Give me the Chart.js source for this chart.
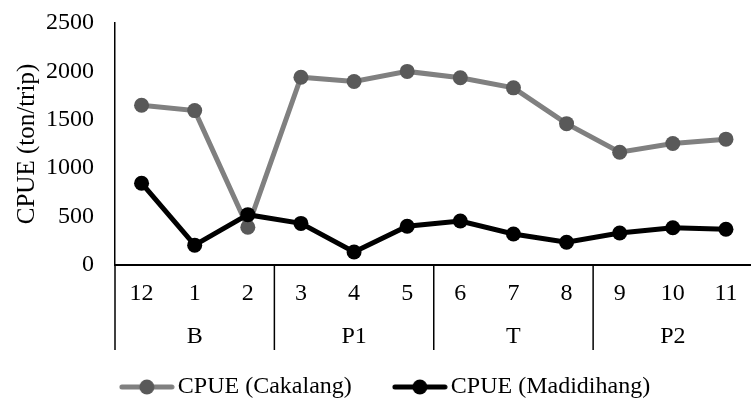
<!DOCTYPE html>
<html>
<head>
<meta charset="utf-8">
<script src="https://cdn.jsdelivr.net/npm/chart.js@4"></script>
<style>
    html, body { margin: 0; padding: 0; background: #fff; overflow: hidden; }
    #wrap { width: 751px; height: 401px; overflow: hidden; }
</style>
</head>
<body>
<div id="wrap"><canvas id="grafico" width="760" height="409"></canvas></div>
<script>
const meses = ['12', '1', '2', '3', '4', '5', '6', '7', '8', '9', '10', '11'];
const grupos = ['B', 'P1', 'T', 'P2'];
const mesesPorGrupo = [3, 3, 3, 3];
const cpueCakalang = [1650, 1595, 390, 1940, 1895, 2000, 1935, 1830, 1460, 1165, 1255, 1300];
const cpueMadidihang = [845, 205, 520, 430, 135, 400, 455, 320, 235, 330, 385, 370];
const eixoY = { min: 0, max: 2500, passo: 500 };

const fonte = '"Liberation Serif", "Times New Roman", serif';

function criarMarcador(corLinha, corPonto) {
    const c = document.createElement('canvas');
    c.width = 56;
    c.height = 16;
    const g = c.getContext('2d');
    g.strokeStyle = corLinha;
    g.lineWidth = 5;
    g.lineCap = 'round';
    g.beginPath();
    g.moveTo(3, 8);
    g.lineTo(53, 8);
    g.stroke();
    g.fillStyle = corPonto;
    g.beginPath();
    g.arc(28, 8, 7.5, 0, Math.PI * 2);
    g.fill();
    return c;
}

const marcadores = [
    criarMarcador('#808080', '#595959'),
    criarMarcador('#000000', '#000000')
];

// linhas separadoras e nomes dos grupos (B, P1, T, P2) abaixo dos meses
const pluginGrupos = {
    id: 'grupos',
    afterDraw(chart) {
        const x = chart.scales.x;
        const ctx = chart.ctx;
        const base = chart.chartArea.bottom;
        const fim = 350;

        const limites = [x.left];
        const centros = [];
        let ini = 0;
        mesesPorGrupo.forEach(n => {
            const a = x.getPixelForValue(ini);
            const b = x.getPixelForValue(ini + n - 1);
            centros.push((a + b) / 2);
            ini += n;
            if (ini < meses.length) {
                limites.push((x.getPixelForValue(ini - 1) + x.getPixelForValue(ini)) / 2);
            } else {
                limites.push(x.right);
            }
        });

        ctx.save();
        ctx.strokeStyle = '#000';
        ctx.lineWidth = 1.5;
        limites.forEach(px => {
            ctx.beginPath();
            ctx.moveTo(px, base);
            ctx.lineTo(px, fim);
            ctx.stroke();
        });

        ctx.fillStyle = '#000';
        ctx.font = '24px ' + fonte;
        ctx.textAlign = 'center';
        ctx.textBaseline = 'middle';
        grupos.forEach((g, i) => {
            ctx.fillText(g, centros[i], 337);
        });
        ctx.restore();
    }
};

function criarGrafico() {

    const ctx = document.getElementById('grafico').getContext('2d');

    new Chart(ctx, {
        type: 'line',
        data: {
            labels: meses,
            datasets: [
                {
                    label: 'CPUE (Cakalang)',
                    data: cpueCakalang,
                    borderColor: '#808080',
                    backgroundColor: '#595959',
                    pointBackgroundColor: '#595959',
                    pointBorderColor: '#595959',
                    borderWidth: 5,
                    pointRadius: 7.5,
                    pointBorderWidth: 0,
                    tension: 0,
                    order: 2
                },
                {
                    label: 'CPUE (Madidihang)',
                    data: cpueMadidihang,
                    borderColor: '#000000',
                    backgroundColor: '#000000',
                    pointBackgroundColor: '#000000',
                    pointBorderColor: '#000000',
                    borderWidth: 5,
                    pointRadius: 7.5,
                    pointBorderWidth: 0,
                    tension: 0,
                    order: 1
                }
            ]
        },
        options: {
            responsive: false,
            animation: false,
            devicePixelRatio: 1,
            layout: { padding: { top: 23, left: 18, right: 0, bottom: 0 } },
            plugins: {
                tooltip: { enabled: false },
                legend: {
                    position: 'bottom',
                    labels: {
                        usePointStyle: true,
                        pointStyleWidth: 38,
                        padding: 49,
                        color: '#000',
                        font: { family: fonte, size: 24 },
                        generateLabels(chart) {
                            const itens = Chart.defaults.plugins.legend.labels.generateLabels(chart);
                            itens.sort((a, b) => a.datasetIndex - b.datasetIndex);
                            itens.forEach(it => { it.pointStyle = marcadores[it.datasetIndex]; });
                            return itens;
                        }
                    }
                }
            },
            scales: {
                x: {
                    offset: true,
                    grid: { display: false, drawTicks: false, offset: true },
                    border: { display: true, color: '#000', width: 2 },
                    ticks: {
                        color: '#000',
                        padding: 14,
                        maxRotation: 0,
                        autoSkip: false,
                        font: { family: fonte, size: 24 }
                    },
                    afterFit(scale) { scale.height = 61; }
                },
                y: {
                    min: eixoY.min,
                    max: eixoY.max,
                    grid: { display: false, drawTicks: false },
                    border: { display: true, color: '#000', width: 1.5 },
                    ticks: {
                        stepSize: eixoY.passo,
                        color: '#000',
                        padding: 21,
                        font: { family: fonte, size: 24 },
                        callback: v => String(v)
                    },
                    title: {
                        display: true,
                        text: 'CPUE (ton/trip)',
                        color: '#000',
                        padding: { top: -6, bottom: 0 },
                        font: { family: fonte, size: 25 }
                    },
                    afterFit(scale) {
                        scale.width = 97;
                        scale.paddingTop = 0;
                        scale.paddingBottom = 0;
                    }
                }
            }
        },
        plugins: [pluginGrupos]
    });

}

document.fonts.load('24px "Liberation Serif"').then(criarGrafico, criarGrafico);
</script>
</body>
</html>
